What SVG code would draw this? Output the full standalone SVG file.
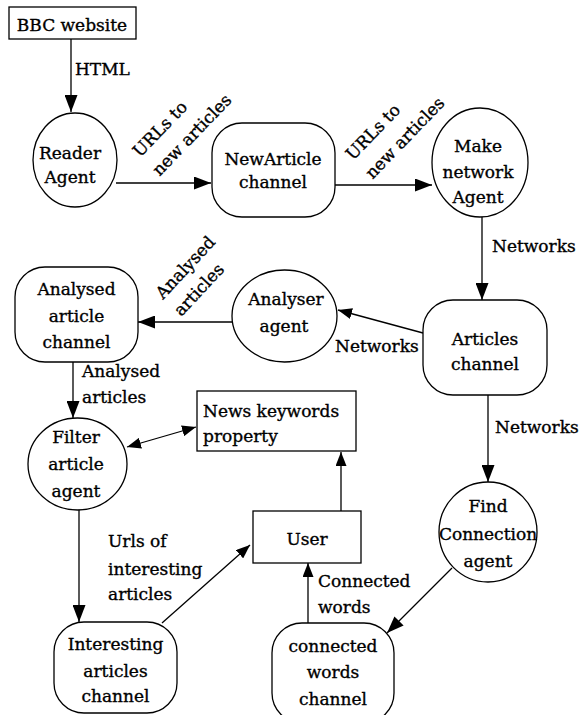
<svg xmlns="http://www.w3.org/2000/svg" width="583" height="715" viewBox="0 0 583 715">
<defs>
<style>
.n{fill:#fff;stroke:#000;stroke-width:1.3}
.m{text-anchor:middle}
.c{stroke:#000;stroke-width:1.3;fill:none}
</style>
<marker id="a" markerUnits="userSpaceOnUse" markerWidth="17" markerHeight="13" refX="17" refY="6.5" orient="auto"><path d="M0,0 L17,6.5 L0,13 z" fill="#000"/></marker>
<marker id="s" markerUnits="userSpaceOnUse" markerWidth="14" markerHeight="11" refX="14" refY="5.5" orient="auto-start-reverse"><path d="M0,0 L14,5.5 L0,11 z" fill="#000"/></marker>
</defs>
<rect width="583" height="715" fill="#fff"/>

<g id="connectors">
<line class="c" x1="71" y1="39" x2="71" y2="112" marker-end="url(#a)"/>
<line class="c" x1="116" y1="183" x2="211" y2="183" marker-end="url(#a)"/>
<line class="c" x1="335" y1="185" x2="432" y2="185" marker-end="url(#a)"/>
<line class="c" x1="482" y1="217" x2="482" y2="300" marker-end="url(#a)"/>
<line class="c" x1="423" y1="333" x2="338" y2="310" marker-end="url(#s)"/>
<line class="c" x1="232" y1="322" x2="138" y2="322" marker-end="url(#a)"/>
<line class="c" x1="73" y1="362" x2="73" y2="418" marker-end="url(#a)"/>
<line class="c" x1="127" y1="447" x2="196" y2="427" marker-start="url(#s)" marker-end="url(#s)"/>
<line class="c" x1="79" y1="510" x2="79" y2="622" marker-end="url(#a)"/>
<line class="c" x1="162" y1="623" x2="250" y2="545" marker-end="url(#s)"/>
<line class="c" x1="488" y1="395" x2="488" y2="482" marker-end="url(#a)"/>
<line class="c" x1="452" y1="568" x2="387" y2="633" marker-end="url(#a)"/>
<line class="c" x1="308" y1="623" x2="308" y2="563" marker-end="url(#s)"/>
<line class="c" x1="341" y1="511" x2="341" y2="452" marker-end="url(#s)"/>
</g>

<g font-family="DejaVu Serif, serif" font-size="17" fill="#000" stroke="#000" stroke-width="0.35">
<g id="labels">
<text x="75" y="75">HTML</text>
<text transform="translate(140,158) rotate(-46)"><tspan x="0" y="0">URLs to</tspan><tspan x="0" y="27">new articles</tspan></text>
<text transform="translate(353,161) rotate(-46)"><tspan x="0" y="0">URLs to</tspan><tspan x="0" y="27">new articles</tspan></text>
<text x="492" y="252">Networks</text>
<text transform="translate(163,300) rotate(-47)"><tspan x="0" y="0">Analysed</tspan><tspan x="0" y="25">articles</tspan></text>
<text x="335" y="352">Networks</text>
<text x="82" y="377">Analysed</text>
<text x="82" y="403">articles</text>
<text x="495" y="433">Networks</text>
<text x="108" y="547">Urls of</text>
<text x="108" y="575">interesting</text>
<text x="108" y="600">articles</text>
<text x="318" y="587">Connected</text>
<text x="318" y="613">words</text>
</g>

<g id="bbc"><rect class="n" x="9" y="7" width="127" height="32"/><text class="m" x="72" y="31">BBC website</text></g>
<g id="reader"><ellipse class="n" cx="75" cy="160" rx="42" ry="47"/><text class="m" x="70" y="159">Reader</text><text class="m" x="70" y="183">Agent</text></g>
<g id="newarticle"><rect class="n" x="212" y="123" width="123" height="94" rx="30"/><text class="m" x="273" y="165">NewArticle</text><text class="m" x="273" y="188">channel</text></g>
<g id="makenetwork"><ellipse class="n" cx="480" cy="162.5" rx="48" ry="54.5"/><text class="m" x="478" y="152">Make</text><text class="m" x="478" y="178">network</text><text class="m" x="478" y="203">Agent</text></g>
<g id="articles"><rect class="n" x="423" y="300" width="124" height="95" rx="30"/><text class="m" x="485" y="345">Articles</text><text class="m" x="485" y="370">channel</text></g>
<g id="analyser"><ellipse class="n" cx="284.5" cy="316" rx="52.5" ry="46"/><text class="m" x="286" y="305">Analyser</text><text class="m" x="284" y="332">agent</text></g>
<g id="analysedchannel"><rect class="n" x="15" y="267" width="123" height="95" rx="30"/><text class="m" x="76.5" y="295">Analysed</text><text class="m" x="76.5" y="322">article</text><text class="m" x="76.5" y="348">channel</text></g>
<g id="filter"><ellipse class="n" cx="77.5" cy="464" rx="49.5" ry="46"/><text class="m" x="76" y="443">Filter</text><text class="m" x="76" y="470">article</text><text class="m" x="76" y="497">agent</text></g>
<g id="news"><rect class="n" x="197" y="391" width="159" height="60"/><text x="203" y="417">News keywords</text><text x="203" y="442">property</text></g>
<g id="user"><rect class="n" x="253" y="511" width="108" height="52"/><text class="m" x="307" y="545">User</text></g>
<g id="find"><ellipse class="n" cx="488" cy="532" rx="49" ry="50"/><text class="m" x="488" y="512">Find</text><text class="m" x="488" y="540">Connection</text><text class="m" x="488" y="567">agent</text></g>
<g id="interesting"><rect class="n" x="54" y="622" width="123" height="91" rx="30"/><text class="m" x="115.5" y="650">Interesting</text><text class="m" x="115.5" y="677">articles</text><text class="m" x="115.5" y="702">channel</text></g>
<g id="connected"><rect class="n" x="272" y="623" width="122" height="100" rx="30"/><text class="m" x="333" y="652">connected</text><text class="m" x="333" y="678">words</text><text class="m" x="333" y="705">channel</text></g>
</g>
</svg>
